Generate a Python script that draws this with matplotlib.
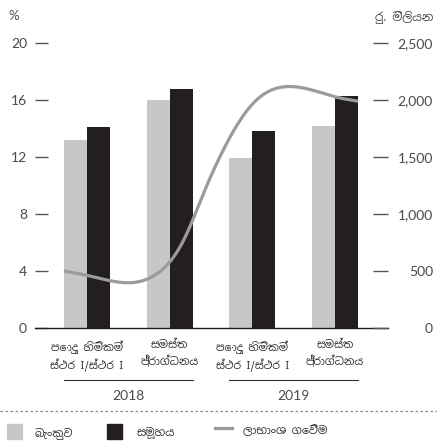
import matplotlib
matplotlib.use("Agg")
import matplotlib.pyplot as plt
from matplotlib.lines import Line2D
from matplotlib.patches import Rectangle
import numpy as np

# Capital adequacy ratios (%) and dividend payment (Rs. million)
categories = ["පොදු හිමිකම්\nස්ථර I/ස්ථර I", "සමස්ත\nප්‍රාග්ධනය",
              "පොදු හිමිකම්\nස්ථර I/ස්ථර I", "සමස්ත\nප්‍රාග්ධනය"]
years = ["2018", "2019"]
bank = [13.2, 16.0, 11.9, 14.2]
group = [14.1, 16.8, 13.8, 16.3]
dividend_x = [-0.28, 0.04, 0.48, 0.88, 1.17, 1.41, 1.69, 2.01, 2.50, 3.06, 3.28]
dividend = [500, 455, 397, 494, 772, 1181, 1620, 1971, 2117, 2018, 1990]
left_ticks = [0, 4, 8, 12, 16, 20]
right_ticks = [0, 500, 1000, 1500, 2000, 2500]

GREY_BAR = "#c6c7c9"
BLACK_BAR = "#231f20"
LINE_GREY = "#9b9b9b"
TEXT = "#4a4a4a"
NUM_FONT = ["Lato", "DejaVu Sans"]
SIN_FONT = ["Noto Sans Sinhala", "DejaVu Sans"]


def natural_spline(x, y, n=400):
    x = np.asarray(x, float)
    y = np.asarray(y, float)
    k = len(x)
    h = np.diff(x)
    A = np.zeros((k, k))
    b = np.zeros(k)
    A[0, 0] = A[-1, -1] = 1
    for i in range(1, k - 1):
        A[i, i - 1] = h[i - 1]
        A[i, i] = 2 * (h[i - 1] + h[i])
        A[i, i + 1] = h[i]
        b[i] = 6 * ((y[i + 1] - y[i]) / h[i] - (y[i] - y[i - 1]) / h[i - 1])
    M = np.linalg.solve(A, b)
    xs = np.linspace(x[0], x[-1], n)
    idx = np.clip(np.searchsorted(x, xs) - 1, 0, k - 2)
    x0, x1 = x[idx], x[idx + 1]
    hh = x1 - x0
    t0, t1 = x1 - xs, xs - x0
    ys = (M[idx] * t0 ** 3 / (6 * hh) + M[idx + 1] * t1 ** 3 / (6 * hh)
          + (y[idx] / hh - M[idx] * hh / 6) * t0
          + (y[idx + 1] / hh - M[idx + 1] * hh / 6) * t1)
    return xs, ys


W, H = 437, 442
fig = plt.figure(figsize=(W / 100, H / 100), dpi=100)
ax = fig.add_axes([35 / W, (H - 328) / H, 353 / W, 285 / H])
ax2 = ax.twinx()

x = np.arange(len(categories))
bw = 0.278
ax.bar(x - bw / 2, bank, bw, color=GREY_BAR, zorder=2)
ax.bar(x + bw / 2, group, bw, color=BLACK_BAR, zorder=2)

sx, sy = natural_spline(dividend_x, dividend)
ax2.plot(sx, sy, color=LINE_GREY, lw=2.3, solid_capstyle="butt", zorder=3)

ax.set_xlim(-0.629, 3.641)
ax.set_ylim(0, 20)
ax2.set_ylim(0, 2500)
ax.set_xticks([])
ax.set_yticks(left_ticks)
ax2.set_yticks(right_ticks)
ax2.set_yticklabels([f"{v:,}" for v in right_ticks])

for s in ["top", "left", "right"]:
    ax.spines[s].set_visible(False)
    ax2.spines[s].set_visible(False)
ax2.spines["bottom"].set_visible(False)
ax.spines["bottom"].set_color("#231f20")
ax.spines["bottom"].set_linewidth(1.0)

ax.tick_params(axis="y", direction="in", length=9.4, width=1.0, color="#555555",
               pad=5.8, labelsize=10, labelcolor=TEXT)
ax2.tick_params(axis="y", direction="in", length=10.8, width=1.0, color="#555555",
                pad=32.4, labelsize=10, labelcolor=TEXT)
for lab in ax.get_yticklabels():
    lab.set_family(NUM_FONT)
for lab in ax2.get_yticklabels():
    lab.set_family(NUM_FONT)
    lab.set_horizontalalignment("right")

ax2.patch.set_visible(False)


def px(xp, yp):
    return xp / W, 1 - yp / H


# Axis unit labels
fig.text(*px(8, 16), "%", family=NUM_FONT, fontsize=9.5, color=TEXT,
         ha="left", va="center")
fig.text(*px(433, 18), "රු. මිලියන", family=SIN_FONT, fontsize=8.5, color=TEXT,
         ha="right", va="center")

# Category labels below the baseline
for xi, lab in zip(x, categories):
    ax.annotate(lab, xy=(xi, 0), xycoords=("data", "axes fraction"),
                xytext=(0, -9), textcoords="offset points", ha="center", va="top",
                family=SIN_FONT, fontsize=7.8, color="#333333", linespacing=1.45,
                annotation_clip=False)

# Year brackets
for (x0, x1), yr in zip([(-0.28, 1.28), (1.72, 3.28)], years):
    y_line = 1 - 380 / H
    xa = ax.transData.transform((x0, 0))[0] / fig.dpi / fig.get_figwidth()
    xb = ax.transData.transform((x1, 0))[0] / fig.dpi / fig.get_figwidth()
    fig.add_artist(Line2D([xa, xb], [y_line, y_line], color="#333333", lw=0.8))
    fig.text((xa + xb) / 2, 1 - 396 / H, yr, family=NUM_FONT, fontsize=10,
             color=TEXT, ha="center", va="center")

# Dotted separator
fig.add_artist(Line2D([0, 1], [1 - 411 / H] * 2, color="#888888", lw=0.9,
                      ls=(0, (2, 2))))

# Legend
fig.add_artist(Rectangle(px(7, 439), 15 / W, 15 / H, color=GREY_BAR,
                         transform=fig.transFigure))
fig.text(*px(35, 433), "බැංකුව", family=SIN_FONT, fontsize=8, color="#333333",
         ha="left", va="center")
fig.add_artist(Rectangle(px(107, 439), 15 / W, 15 / H, color=BLACK_BAR,
                         transform=fig.transFigure))
fig.text(*px(137, 433), "සමූහය", family=SIN_FONT, fontsize=8, color="#333333",
         ha="left", va="center")
fig.add_artist(Line2D([215 / W, 232 / W], [1 - 428 / H] * 2, color=LINE_GREY, lw=2.3))
fig.text(*px(243, 431), "ලාභාංශ ගෙවීම", family=SIN_FONT, fontsize=8, color="#333333",
         ha="left", va="center")

fig.savefig("out.png", dpi=100)
